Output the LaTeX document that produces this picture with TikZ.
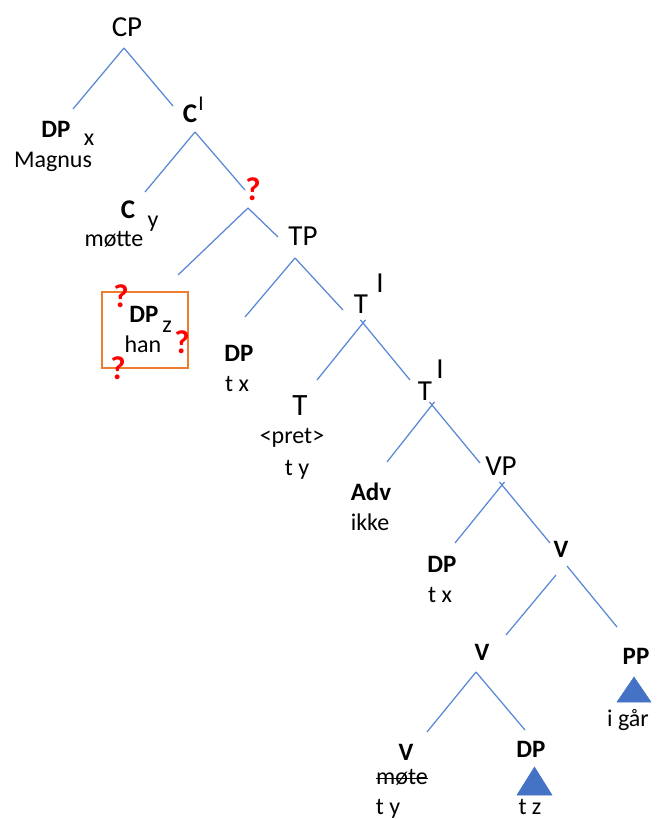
\documentclass[tikz,border=0pt]{standalone}
\usepackage{fontspec}
\setmainfont{Carlito}
\definecolor{treeblue}{HTML}{5B87D6}
\definecolor{trifill}{HTML}{4472C4}
\definecolor{boxorange}{HTML}{ED7D31}
\definecolor{qred}{HTML}{FF0000}
\tikzset{
  br/.style={line width=1.25pt, draw=treeblue},
  brx/.style={br, shorten <=-4pt},
  phr/.style={inner sep=0pt, anchor=base, font=\fontsize{29}{31}\selectfont},
  bphr/.style={inner sep=0pt, anchor=base, font=\bfseries\fontsize{25}{27}\selectfont},
  bcee/.style={inner sep=0pt, anchor=base, font=\bfseries\fontsize{27}{29}\selectfont},
  sm/.style={inner sep=0pt, anchor=base, font=\fontsize{24}{26}\selectfont},
  supi/.style={inner sep=0pt, anchor=base, font=\fontsize{29}{31}\selectfont},
  qm/.style={inner sep=0pt, anchor=center, text=qred, font=\bfseries\fontsize{33}{35}\selectfont},
  tri/.style={fill=trifill, draw=trifill, line width=0.5pt},
}
\begin{document}
\begin{tikzpicture}[x=1pt,y=-1pt]
\useasboundingbox (0,0) rectangle (656,819);
% ---------- labels ----------
\node[phr] (cp) at (127,36) {CP};
\node[bphr] (dpx) at (56,137) {DP};
\node[sm] (dpxs) at (89,145) {x};
\node[sm] (magnus) at (53,167) {Magnus};
\node[bcee] (cbar) at (190,122) {C};
\node[inner sep=0pt, anchor=base, font=\fontsize{21}{23}\selectfont] (cbari) at (201,110) {I};
\node[qm] (q1) at (253,189) {?};
\node[bcee] (cy) at (128,218) {C};
\node[sm] (cys) at (153,227) {y};
\node[sm] (motte) at (114,246) {møtte};
\node[phr] (tp) at (303,245) {TP};
% boxed DP
\node[draw=boxorange, line width=1.3pt, minimum width=86pt, minimum height=76pt, inner sep=0pt] (box) at (145,330) {};
\node[bphr] (dpz) at (144,322) {DP};
\node[sm] (dpzs) at (167,332) {z};
\node[sm] (han) at (143,352) {han};
\node[qm] (q2) at (121,296) {?};
\node[qm] (q3) at (182,342) {?};
\node[qm] (q4) at (118,368) {?};
% DP t x
\node[bphr] (dptx) at (239,361) {DP};
\node[sm] (tx1) at (237,391) {t x};
% T'
\node[phr] (tbar) at (361,313) {T};
\node[supi] (tbari) at (380,292) {I};
% T pret
\node[inner sep=0pt, anchor=base, font=\fontsize{31}{33}\selectfont] (tpret) at (300,415) {T};
\node[sm] (pret) at (292,443) {<pret>};
\node[sm] (ty1) at (297,475) {t y};
% T''
\node[phr] (tbb) at (425,400) {T};
\node[supi] (tbbi) at (440,378) {I};
% Adv
\node[bphr] (adv) at (371,500) {Adv};
\node[sm] (ikke) at (370,530) {ikke};
% VP
\node[phr] (vp) at (501,475) {VP};
% DP t x 2
\node[bphr] (dptx2) at (442,572) {DP};
\node[sm] (tx2) at (440,602) {t x};
% V bar
\node[bphr] (vbar) at (561,557) {V};
% V2
\node[bphr] (vtwo) at (482,660) {V};
% PP
\node[bphr] (pp) at (636,664) {PP};
\node[sm] (igar) at (628,726) {i går};
% V bottom
\node[bphr] (vbot) at (406,760) {V};
\node[sm] (mote) at (402,784) {møte};
\draw[line width=1.4pt] ([yshift=5.5pt]mote.base west) -- ([yshift=5.5pt]mote.base east);
\node[sm] (ty2) at (388,814) {t y};
% DP bottom
\node[bphr] (dpbot) at (531,757) {DP};
\node[sm] (tz) at (530,814) {t z};
% ---------- triangles ----------
\coordinate (ppl) at (617,702); \coordinate (ppr) at (651,702); \coordinate (ppt) at (634,677);
\draw[tri] (ppl) -- (ppr) -- (ppt) -- cycle;
\coordinate (dbl) at (517,795); \coordinate (dbr) at (552,795); \coordinate (dbt) at (534.5,767);
\draw[tri] (dbl) -- (dbr) -- (dbt) -- cycle;
% ---------- branches ----------
\coordinate (a1) at (124,48);  \coordinate (a1l) at (73,109);  \coordinate (a1r) at (173,106);
\coordinate (a2) at (195,132); \coordinate (a2l) at (145,192); \coordinate (a2r) at (245,190);
\coordinate (a3) at (248,208); \coordinate (a3l) at (178,275); \coordinate (a3r) at (278,237);
\coordinate (a4) at (295,258); \coordinate (a4l) at (245,317); \coordinate (a4r) at (343,310);
\coordinate (a5) at (363,323); \coordinate (a5l) at (317,380); \coordinate (a5r) at (410,380);
\coordinate (a6) at (432,405); \coordinate (a6l) at (387,462); \coordinate (a6r) at (480,463);
\coordinate (a7) at (502,485); \coordinate (a7l) at (455,543); \coordinate (a7r) at (550,543);
\coordinate (a8l0) at (556,575); \coordinate (a8l) at (506,635);
\coordinate (a8r0) at (567,566); \coordinate (a8r) at (617,627);
\coordinate (a9) at (476,672); \coordinate (a9l) at (427,732); \coordinate (a9r) at (525,730);
\draw[br] (a1) -- (a1l); \draw[br] (a1) -- (a1r);
\draw[br] (a2) -- (a2l); \draw[br] (a2) -- (a2r);
\draw[br] (a3) -- (a3l); \draw[br] (a3) -- (a3r);
\draw[br] (a4) -- (a4l); \draw[br] (a4) -- (a4r);
\draw[brx] (a5) -- (a5l); \draw[brx] (a5) -- (a5r);
\draw[brx] (a6) -- (a6l); \draw[brx] (a6) -- (a6r);
\draw[brx] (a7) -- (a7l); \draw[brx] (a7) -- (a7r);
\draw[br] (a8l0) -- (a8l); \draw[br] (a8r0) -- (a8r);
\draw[br] (a9) -- (a9l); \draw[br] (a9) -- (a9r);
\end{tikzpicture}
\end{document}
